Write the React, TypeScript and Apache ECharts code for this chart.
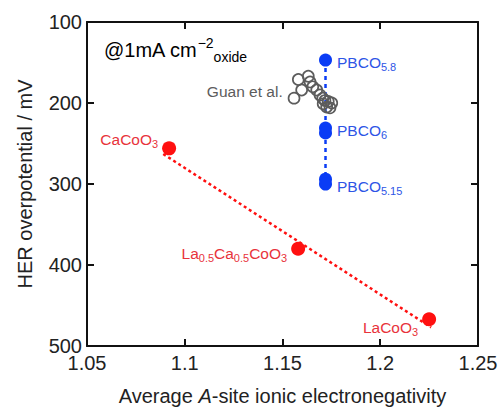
import React, { useEffect, useRef } from "react";
import * as echarts from "echarts";

// Red series: perovskite cobaltites
const redNames = ["{m|CaCoO}{s|3}", "{m|La}{s|0.5}{m|Ca}{s|0.5}{m|CoO}{s|3}", "{m|LaCoO}{s|3}"];
const redX = [1.092, 1.158, 1.225];
const redY = [256, 380, 467];
// Red linear fit endpoints
const fitX = [1.089, 1.226];
const fitY = [263, 477];

// Blue PBCO points
const pbcoNames = ["{m|PBCO}{s|5.8}", "{m|PBCO}{s|6}", "", "{m|PBCO}{s|5.15}", ""];
const pbcoX = [1.172, 1.172, 1.172, 1.172, 1.172];
const pbcoY = [147, 231, 237, 294, 300];

// Guan et al. open circles
const guanX = [1.1559, 1.1598, 1.1581, 1.1632, 1.1641, 1.1655, 1.1675, 1.1692, 1.1706, 1.1717, 1.1734, 1.1752, 1.1726, 1.1743, 1.1708];
const guanY = [194, 184, 171, 167, 174, 180, 184, 190, 194, 197, 198, 200, 205, 206, 201];

const xTicks = { min: 1.05, max: 1.25, interval: 0.05 };
const yTicks = { min: 100, max: 500, interval: 100 };

const FONT = "'Liberation Sans', Arial, Helvetica, sans-serif";
const RED = "#ff1010";
const RED_TXT = "#e8333b";
const BLUE = "#0a3cf5";
const BLUE_TXT = "#2d55e6";
const GRAY = "#5c5c5c";

function richFor(color: string) {
  return {
    m: { fontSize: 15.5, color, fontFamily: FONT, lineHeight: 20 },
    s: { fontSize: 11, color, fontFamily: FONT, lineHeight: 10, verticalAlign: "bottom" as const },
  };
}

export default function App() {
  const ref = useRef<HTMLDivElement>(null);
  useEffect(() => {
    if (!ref.current) return;
    const chart = echarts.init(ref.current, undefined, { renderer: "svg" });
    const redOffsets = [[0, -9], [0, 5], [0, 8]];
    const pbcoOffsets = [[0, 2], [0, 2], [0, 0], [0, 7], [0, 0]];
    const axisBase = {
      axisLine: { show: true, lineStyle: { color: "#111", width: 2 } },
      axisTick: { show: true, inside: true, length: 7, lineStyle: { color: "#111", width: 2 } },
      splitLine: { show: false },
    };
    chart.setOption({
      animation: false,
      backgroundColor: "#fff",
      grid: { left: 87, right: 22, top: 22, bottom: 63, containLabel: false, outerBoundsMode: "none" },
      xAxis: [
        {
          type: "value",
          position: "bottom",
          ...xTicks,
          ...axisBase,
          axisLabel: { color: "#222", fontSize: 20, fontFamily: FONT, margin: 7 },
          name: "Average {i|A}-site ionic electronegativity",
          nameLocation: "middle",
          nameGap: 40,
          nameTextStyle: {
            color: "#222",
            fontSize: 20,
            fontFamily: FONT,
            rich: { i: { fontStyle: "italic", fontSize: 20, fontFamily: FONT, color: "#222" } },
          },
        },
        {
          type: "value",
          position: "top",
          ...xTicks,
          ...axisBase,
          axisLabel: { show: false },
        },
      ],
      yAxis: [
        {
          type: "value",
          position: "left",
          inverse: true,
          ...yTicks,
          ...axisBase,
          axisLabel: { color: "#222", fontSize: 20, fontFamily: FONT, margin: 5 },
          name: "HER overpotential / mV",
          nameLocation: "middle",
          nameGap: 52,
          nameTextStyle: { color: "#222", fontSize: 20, fontFamily: FONT },
        },
        {
          type: "value",
          position: "right",
          inverse: true,
          ...yTicks,
          ...axisBase,
          axisLabel: { show: false },
        },
      ],
      graphic: [
        {
          type: "text",
          left: 104,
          top: 36,
          style: {
            text: "{m|@1mA cm}{sup|−2}{sub|oxide}",
            rich: {
              m: { fontSize: 20, fontFamily: FONT, color: "#111", lineHeight: 28 },
              sup: { fontSize: 14, fontFamily: FONT, color: "#111", lineHeight: 12, verticalAlign: "top" },
              sub: { fontSize: 14, fontFamily: FONT, color: "#111", lineHeight: 12, verticalAlign: "bottom" },
            },
          },
        },
      ],
      series: [
        {
          type: "line",
          xAxisIndex: 0,
          yAxisIndex: 0,
          data: fitX.map((x, i) => [x, fitY[i]]),
          symbol: "none",
          lineStyle: { color: RED, width: 2.5, type: [3, 3] },
          silent: true,
          z: 2,
        },
        {
          type: "line",
          data: [
            [pbcoX[0], pbcoY[0]],
            [pbcoX[pbcoX.length - 1], pbcoY[pbcoY.length - 1]],
          ],
          symbol: "none",
          lineStyle: { color: BLUE, width: 2.5, type: [4, 4] },
          silent: true,
          z: 2,
        },
        {
          type: "scatter",
          data: guanX.map((x, i) => ({
            value: [x, guanY[i]],
            label:
              i === 0
                ? {
                    show: true,
                    position: "left",
                    distance: 5,
                    offset: [0, -7],
                    formatter: "Guan et al.",
                    color: GRAY,
                    fontSize: 15.5,
                    fontFamily: FONT,
                  }
                : { show: false },
          })),
          symbol: "circle",
          symbolSize: 11,
          itemStyle: { color: "rgba(255,255,255,0)", borderColor: GRAY, borderWidth: 1.7, opacity: 1 },
          z: 4,
        },
        {
          type: "scatter",
          data: redX.map((x, i) => ({
            value: [x, redY[i]],
            label: {
              show: true,
              position: "left",
              distance: 4,
              offset: redOffsets[i],
              formatter: redNames[i],
              rich: richFor(RED_TXT),
            },
          })),
          symbol: "circle",
          symbolSize: 14,
          itemStyle: { color: RED, opacity: 1 },
          z: 5,
        },
        {
          type: "scatter",
          data: pbcoX.map((x, i) => ({
            value: [x, pbcoY[i]],
            label: {
              show: pbcoNames[i] !== "",
              position: "right",
              distance: 5,
              offset: pbcoOffsets[i],
              formatter: pbcoNames[i],
              rich: richFor(BLUE_TXT),
            },
          })),
          symbol: "circle",
          symbolSize: 13,
          itemStyle: { color: BLUE, opacity: 1 },
          z: 5,
        },
      ],
    });
    return () => chart.dispose();
  }, []);
  return (
    <div
      ref={ref}
      style={{ position: "fixed", left: 0, top: 0, width: 500, height: 409, background: "#fff" }}
    />
  );
}
